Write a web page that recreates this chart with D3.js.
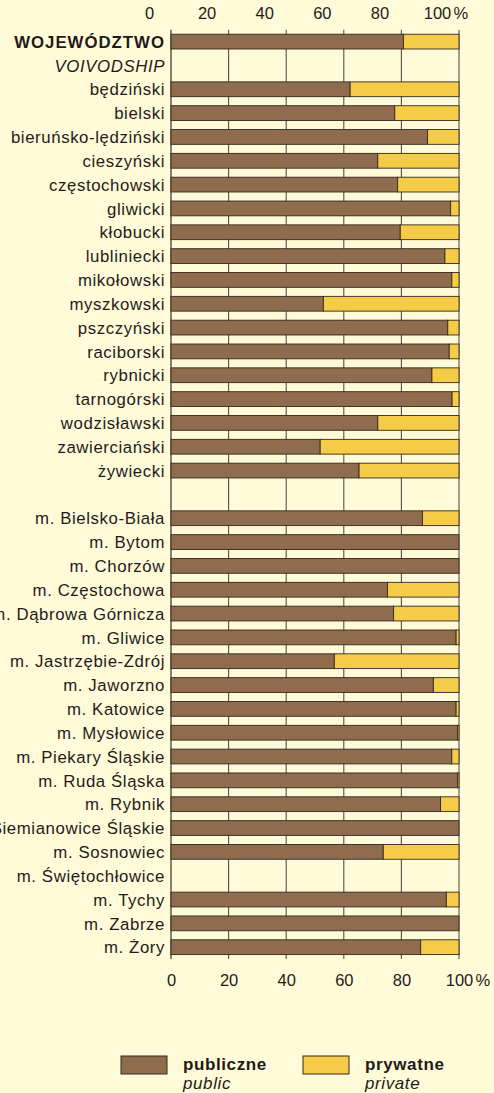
<!DOCTYPE html>
<html>
<head>
<meta charset="utf-8">
<script src="https://cdn.jsdelivr.net/npm/d3@7"></script>
<style>
    body { margin: 0; background: #fffad8; }
    svg { display: block; font-family: "Liberation Sans", Arial, sans-serif; }
</style>
</head>
<body>
<script>
//row labels, "" marks an empty spacer row
var categories = ["WOJEWÓDZTWO", "",
    "będziński", "bielski", "bieruńsko-lędziński", "cieszyński", "częstochowski",
    "gliwicki", "kłobucki", "lubliniecki", "mikołowski", "myszkowski", "pszczyński",
    "raciborski", "rybnicki", "tarnogórski", "wodzisławski", "zawierciański", "żywiecki", " ",
    "m. Bielsko-Biała", "m. Bytom", "m. Chorzów", "m. Częstochowa", "m. Dąbrowa Górnicza",
    "m. Gliwice", "m. Jastrzębie-Zdrój", "m. Jaworzno", "m. Katowice", "m. Mysłowice",
    "m. Piekary Śląskie", "m. Ruda Śląska", "m. Rybnik", "m. Siemianowice Śląskie",
    "m. Sosnowiec", "m. Świętochłowice", "m. Tychy", "m. Zabrze", "m. Żory"];

//share of public entities (%), null = no bar
var publicShare = [80.7, null,
    62.2, 77.7, 89.1, 71.8, 78.7, 97.1, 79.6, 95.1, 97.5, 52.9, 96.1,
    96.6, 90.6, 97.6, 71.8, 51.8, 65.3, null,
    87.3, 100, 100, 75.2, 77.3, 99.0, 56.7, 91.1, 99.0, 99.5,
    97.5, 99.5, 93.6, 100, 73.7, null, 95.6, 100, 86.7];

//share of private entities (%)
var privateShare = [19.3, null,
    37.8, 22.3, 10.9, 28.2, 21.3, 2.9, 20.4, 4.9, 2.5, 47.1, 3.9,
    3.4, 9.4, 2.4, 28.2, 48.2, 34.7, null,
    12.7, 0, 0, 24.8, 22.7, 1.0, 43.3, 8.9, 1.0, 0.5,
    2.5, 0.5, 6.4, 0, 26.3, null, 4.4, 0, 13.3];

var tickValues = [0, 20, 40, 60, 80, 100];

var seriesNames = ["publiczne", "prywatne"];
var seriesNamesEn = ["public", "private"];
var colors = ["#8f6c4e", "#f5cc48"];

window.onload = drawChart();

function drawChart(){
    var width = 494,
        height = 1093;

    var svg = d3.select("body")
        .append("svg")
        .attr("width", width)
        .attr("height", height);

    var x = d3.scaleLinear()
        .domain([0, 100])
        .range([171, 459]);

    var y = d3.scaleBand()
        .domain(d3.range(categories.length))
        .range([29.7, 959.1])
        .paddingInner(0.38)
        .paddingOuter(0.19);

    var ink = "#1f1b1b",
        outline = "#33291f";

    //vertical grid lines
    svg.append("g")
        .selectAll("line")
        .data(tickValues)
        .enter()
        .append("line")
        .attr("x1", function(d){ return x(d); })
        .attr("x2", function(d){ return x(d); })
        .attr("y1", y.range()[0])
        .attr("y2", y.range()[1])
        .attr("stroke", function(d){ return d === 0 ? "#221e1b" : "#57504a"; })
        .attr("stroke-width", 1.1);

    //top axis (labels sit left of the grid in the original)
    var topAxis = svg.append("g")
        .attr("transform", "translate(-22,23)")
        .call(d3.axisTop(x).tickValues(tickValues).tickSize(0).tickPadding(4));
    //bottom axis
    var bottomAxis = svg.append("g")
        .attr("transform", "translate(0,970)")
        .call(d3.axisBottom(x).tickValues(tickValues).tickSize(0).tickPadding(4));

    [topAxis, bottomAxis].forEach(function(ax){
        ax.select(".domain").remove();
        ax.selectAll("text")
            .attr("fill", ink)
            .attr("font-size", "16.5px")
            .attr("font-family", "Liberation Sans, Arial, sans-serif");
        ax.selectAll(".tick")
            .filter(function(d){ return d === 100; })
            .append("text")
            .attr("x", 16)
            .attr("y", ax === topAxis ? -4 : 4)
            .attr("dy", ax === topAxis ? "0em" : "0.71em")
            .attr("text-anchor", "start")
            .attr("fill", ink)
            .attr("font-size", "16.5px")
            .attr("font-family", "Liberation Sans, Arial, sans-serif")
            .text("%");
    });

    //row labels
    svg.append("g")
        .selectAll("text")
        .data(categories)
        .enter()
        .append("text")
        .attr("x", 165)
        .attr("y", function(d, i){ return y(i) + y.bandwidth() / 2; })
        .attr("dy", "0.37em")
        .attr("text-anchor", "end")
        .attr("fill", ink)
        .attr("font-size", "16.8px")
        .attr("letter-spacing", function(d, i){ return i === 0 ? "1px" : "0.6px"; })
        .attr("font-weight", function(d, i){ return i === 0 ? "bold" : "normal"; })
        .text(function(d){ return d.trim(); });

    svg.append("text")
        .attr("x", 165)
        .attr("y", y(1) + y.bandwidth() / 2)
        .attr("dy", "0.37em")
        .attr("text-anchor", "end")
        .attr("fill", ink)
        .attr("font-size", "16.8px")
        .attr("letter-spacing", "0.6px")
        .attr("font-style", "italic")
        .text("VOIVODSHIP");

    //stacked bars
    var rows = categories.map(function(c, i){
        return {i: i, pub: publicShare[i], prv: privateShare[i]};
    }).filter(function(d){ return d.pub !== null; });

    var bars = svg.append("g")
        .selectAll("g")
        .data(rows)
        .enter()
        .append("g");

    bars.append("rect")
        .attr("x", x(0))
        .attr("y", function(d){ return y(d.i); })
        .attr("width", function(d){ return x(d.pub) - x(0); })
        .attr("height", y.bandwidth())
        .attr("fill", colors[0])
        .attr("stroke", outline)
        .attr("stroke-width", 0.9);

    bars.filter(function(d){ return d.prv > 0; })
        .append("rect")
        .attr("x", function(d){ return x(d.pub); })
        .attr("y", function(d){ return y(d.i); })
        .attr("width", function(d){ return x(d.pub + d.prv) - x(d.pub); })
        .attr("height", y.bandwidth())
        .attr("fill", colors[1])
        .attr("stroke", outline)
        .attr("stroke-width", 0.9);

    //legend
    var legendX = [121, 303];
    var legend = svg.append("g")
        .selectAll("g")
        .data(seriesNames)
        .enter()
        .append("g")
        .attr("transform", function(d, i){ return "translate(" + legendX[i] + ",1056)"; });

    legend.append("rect")
        .attr("width", 46)
        .attr("height", 18)
        .attr("fill", function(d, i){ return colors[i]; })
        .attr("stroke", outline)
        .attr("stroke-width", 1);

    legend.append("text")
        .attr("x", 62)
        .attr("y", 14)
        .attr("fill", ink)
        .attr("font-size", "17px")
        .attr("font-weight", "bold")
        .attr("letter-spacing", "0.6px")
        .text(function(d){ return d; });

    legend.append("text")
        .attr("x", 62)
        .attr("y", 33)
        .attr("fill", ink)
        .attr("font-size", "17px")
        .attr("font-style", "italic")
        .attr("letter-spacing", "0.6px")
        .text(function(d, i){ return seriesNamesEn[i]; });
};
</script>
</body>
</html>
